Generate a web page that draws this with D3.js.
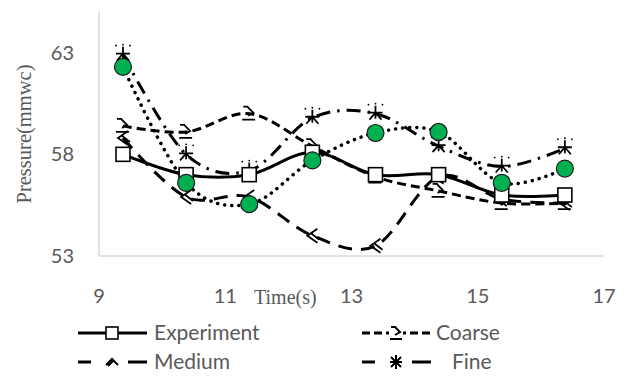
<!DOCTYPE html>
<html>
<head>
<meta charset="utf-8">
<script src="https://cdn.jsdelivr.net/npm/d3@7"></script>
<style>
  html, body { margin: 0; padding: 0; background: #fff; }
  svg { display: block; }
</style>
</head>
<body>
<svg id="chart" width="628" height="378"></svg>
<script>
// ---- data ----
const times = [9.38, 10.38, 11.38, 12.38, 13.38, 14.38, 15.38, 16.38];
const experiment = [58.0, 57.0, 57.0, 58.1, 57.0, 57.0, 56.0, 56.0];
const coarse = [59.4, 59.1, 60.0, 58.4, 56.9, 56.2, 55.6, 55.6];
const medium = [58.8, 55.9, 55.9, 54.0, 53.5, 56.9, 55.8, 55.6];
const fine = [62.9, 58.0, 57.2, 59.8, 60.0, 58.4, 57.4, 58.3];
const series5 = [62.3, 56.6, 55.55, 57.7, 59.05, 59.1, 56.6, 57.3];
const xTicks = [9, 11, 13, 15, 17];
const yTicks = [53, 58, 63];
const seriesNames = ["Experiment", "Coarse", "Medium", "Fine", "Series5"];
const xTitle = "Time(s)";
const yTitle = "Pressure(mmwc)";

// ---- layout ----
const svg = d3.select("#chart");
const x = d3.scaleLinear().domain([9, 17]).range([99, 604]);
const y = d3.scaleLinear().domain([53, 65]).range([256, 12]);
const tickFont = "Lato, 'Open Sans', sans-serif";
const serif = "'Liberation Serif', 'DejaVu Serif', serif";
const gray = "#595959";

// axes lines
svg.append("line").attr("x1", x(9)).attr("x2", x(9)).attr("y1", y(65)).attr("y2", y(53))
  .attr("stroke", "#d9d9d9").attr("stroke-width", 1.5);
svg.append("line").attr("x1", x(9)).attr("x2", x(17)).attr("y1", y(53)).attr("y2", y(53))
  .attr("stroke", "#d9d9d9").attr("stroke-width", 1.5);

// tick labels
svg.selectAll("text.yt").data(yTicks).enter().append("text")
  .attr("class", "yt").attr("x", 74).attr("y", d => y(d)).attr("dy", "0.35em")
  .attr("text-anchor", "end").attr("font-family", tickFont).attr("font-size", 20)
  .attr("fill", gray).text(d => d);
svg.selectAll("text.xt").data(xTicks).enter().append("text")
  .attr("class", "xt").attr("x", d => x(d)).attr("y", 296).attr("dy", "0.35em")
  .attr("text-anchor", "middle").attr("font-family", tickFont).attr("font-size", 20)
  .attr("fill", gray).text(d => d);

// axis titles
svg.append("text").attr("x", 254).attr("y", 297).attr("dy", "0.35em")
  .attr("font-family", serif).attr("font-size", 20).attr("fill", gray).text(xTitle);
svg.append("text").attr("transform", "translate(24,134) rotate(-90)")
  .attr("dy", "0.35em").attr("text-anchor", "middle")
  .attr("font-family", serif).attr("font-size", 20.5).attr("fill", gray).text(yTitle);

// ---- series ----
const lineGen = d3.line().x(d => x(d[0])).y(d => y(d[1])).curve(d3.curveCatmullRom.alpha(0));
const styles = {
  Experiment: { dash: null, width: 3 },
  Coarse: { dash: "9,5", width: 3 },
  Medium: { dash: "14,9", width: 3 },
  Fine: { dash: "14,7,2.5,7", width: 3, cap: "butt" },
  Series5: { dash: "0.1,7", width: 3.5, cap: "round" }
};
const values = { Experiment: experiment, Coarse: coarse, Medium: medium, Fine: fine, Series5: series5 };

const markerPaths = {
  Coarse: "M-6,-7H-1M-2,-7L4,-1L-1,2M-7,6H6",
  Medium: "M5,-7L-5,0L5,7M-2,-3L7,4",
  Fine: "M0,-8V5M-7,-1H7M0,-1L-6,6M0,-1L6,6"
};
const legendMarkerPaths = {
  Coarse: "M-5,-6H0M-1,-6L4,-1L-1,2M-6,6H6",
  Medium: "M-6,3L0,-3L6,3M1,-1L-4,4",
  Fine: "M0,-7V7M-6,0H6M-5,-5L5,5M5,-5L-5,5"
};

function drawMarker(g, name) {
  if (name === "Experiment") {
    g.append("rect").attr("x", -7).attr("y", -7).attr("width", 14).attr("height", 14)
      .attr("fill", "#fff").attr("stroke", "#000").attr("stroke-width", 1.6);
  } else if (name === "Series5") {
    g.append("circle").attr("r", 8.5).attr("fill", "#00b050").attr("stroke", "#1a1a1a").attr("stroke-width", 1.2);
  } else {
    g.append("path").attr("d", markerPaths[name])
      .attr("fill", "none").attr("stroke", "#000").attr("stroke-width", 1.8);
    if (name === "Fine") {
      [[-7, -9], [7, -9], [0, -10]].forEach(p => {
        g.append("circle").attr("cx", p[0]).attr("cy", p[1]).attr("r", 0.9).attr("fill", "#000");
      });
    }
  }
}

const drawOrder = ["Medium", "Coarse", "Fine", "Experiment", "Series5"];
drawOrder.forEach(name => {
  const pts = times.map((t, i) => [t, values[name][i]]);
  const st = styles[name];
  svg.append("path").datum(pts).attr("d", lineGen)
    .attr("fill", "none").attr("stroke", "#000").attr("stroke-width", st.width)
    .attr("stroke-dasharray", st.dash).attr("stroke-linecap", st.cap || "butt");
});
drawOrder.forEach(name => {
  times.forEach((t, i) => {
    const g = svg.append("g").attr("transform", `translate(${x(t)},${y(values[name][i])})`);
    drawMarker(g, name);
  });
});

// ---- legend ----
const legendItems = [
  { name: "Experiment", x0: 78, row: 0, textX: 154 },
  { name: "Coarse", x0: 362, row: 1, textX: 436 },
  { name: "Medium", x0: 78, row: 2, textX: 154 },
  { name: "Fine", x0: 362, row: 3, textX: 452 }
];
const rowY = [333, 333, 362, 362];
legendItems.forEach(it => {
  const ly = rowY[it.row];
  const g = svg.append("g");
  const x1 = it.x0, x2 = it.x0 + 69, mx = it.x0 + 34;
  if (it.name === "Experiment") {
    g.append("line").attr("x1", x1).attr("x2", x2).attr("y1", ly).attr("y2", ly)
      .attr("stroke", "#000").attr("stroke-width", 3);
  } else if (it.name === "Coarse") {
    g.append("line").attr("x1", x1).attr("x2", x2).attr("y1", ly).attr("y2", ly)
      .attr("stroke", "#000").attr("stroke-width", 3).attr("stroke-dasharray", "8,4");
  } else {
    g.append("line").attr("x1", x1).attr("x2", x1 + 13).attr("y1", ly).attr("y2", ly)
      .attr("stroke", "#000").attr("stroke-width", 3);
    g.append("line").attr("x1", x2 - 19).attr("x2", x2).attr("y1", ly).attr("y2", ly)
      .attr("stroke", "#000").attr("stroke-width", 3);
  }
  const mg = g.append("g").attr("transform", `translate(${mx},${ly})`);
  if (it.name === "Experiment") {
    mg.append("rect").attr("x", -6).attr("y", -6).attr("width", 12).attr("height", 12)
      .attr("fill", "#fff").attr("stroke", "#000").attr("stroke-width", 1.6);
  } else {
    if (it.name === "Coarse") {
      mg.append("rect").attr("x", -7).attr("y", -8).attr("width", 14).attr("height", 16).attr("fill", "#fff");
    }
    mg.append("path").attr("d", legendMarkerPaths[it.name])
      .attr("fill", "none").attr("stroke", "#000").attr("stroke-width", 2);
  }
  g.append("text").attr("x", it.textX).attr("y", ly).attr("dy", "0.35em")
    .attr("font-family", tickFont).attr("font-size", 21).attr("fill", gray).text(it.name);
});
</script>
</body>
</html>
